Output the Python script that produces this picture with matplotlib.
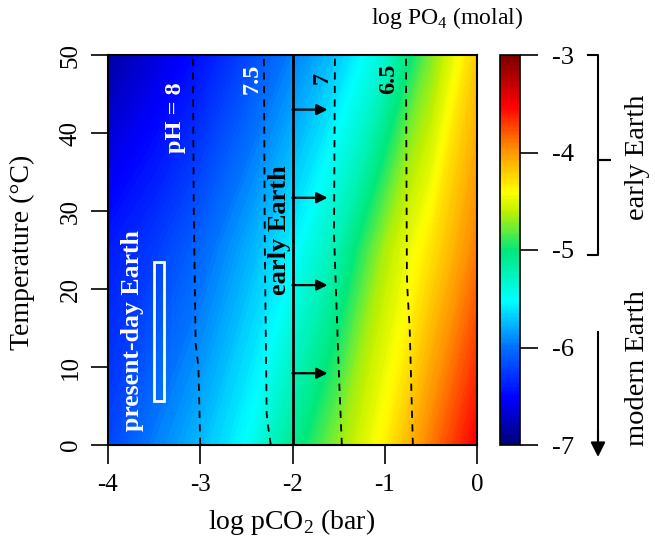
import numpy as np
import matplotlib.pyplot as plt
from matplotlib.colors import LinearSegmentedColormap
from matplotlib.transforms import blended_transform_factory

plt.rcParams['font.family'] = ['Liberation Serif', 'DejaVu Serif']
plt.rcParams['mathtext.fontset'] = 'custom'
plt.rcParams['mathtext.rm'] = 'Liberation Serif'

# valeurs: log PO4 (molal) en fonction de log pCO2 et T
logpco2 = [-4.0, -3.5, -3.0, -2.5, -2.0, -1.5, -1.0, -0.5, 0.0]
temp = [0, 25, 50]
logpo4 = [
    [-6.2, -5.95, -5.75, -5.5, -5.1, -4.7, -4.35, -3.9, -3.5],
    [-6.4, -6.25, -6.05, -5.8, -5.55, -5.2, -4.65, -4.3, -3.9],
    [-6.85, -6.65, -6.45, -6.2, -5.95, -5.7, -5.35, -4.75, -4.2],
]

# lignes de pH constant (x = log pCO2, T)
ph8_x = [-3.0, -3.02, -3.05, -3.07, -3.08]
ph8_t = [0, 10, 13, 30, 50]
ph75_x = [-2.235, -2.26, -2.28, -2.3, -2.31]
ph75_t = [0, 2, 4, 25, 50]
ph7_x = [-1.465, -1.5, -1.55, -1.54]
ph7_t = [0, 10, 27, 50]
ph65_x = [-0.695, -0.73, -0.755, -0.76, -0.77]
ph65_t = [0, 15, 20, 22, 50]

arrow_t = [9.2, 20.5, 31.7, 43.0]
early_pco2 = -2.0
arrow_end = -1.62

# present-day Earth
pd_x = [-3.5, -3.39]
pd_t = [5.6, 23.5]

cmap = LinearSegmentedColormap.from_list('po4', [
    (0.0, '#00007a'), (0.12, '#0000ff'), (0.25, '#0070ff'), (0.37, '#00ffff'),
    (0.5, '#00e87a'), (0.6, '#c0f000'), (0.65, '#ffff00'), (0.76, '#ff9000'),
    (0.87, '#ff0000'), (1.0, '#7a0000')])

fig = plt.figure(figsize=(6.55, 5.38), dpi=100)
ax = fig.add_axes([108/655, 1-445/538, 369/655, 390/538])
cax = fig.add_axes([500/655, 1-445/538, 20/655, 390/538])

X, T = np.meshgrid(logpco2, temp)
Z = np.array(logpo4)
cf = ax.contourf(X, T, Z, levels=np.linspace(-7, -3, 161), cmap=cmap,
                 vmin=-7, vmax=-3)

for xs, ts in [(ph8_x, ph8_t), (ph75_x, ph75_t), (ph7_x, ph7_t), (ph65_x, ph65_t)]:
    ax.plot(xs, ts, color='black', lw=1.3, ls=(0, (4, 3.5)))

ax.axvline(early_pco2, color='black', lw=2)
for t in arrow_t:
    ax.annotate('', xy=(arrow_end, t), xytext=(early_pco2, t),
                arrowprops=dict(arrowstyle='-|>', color='black', lw=1.6,
                                mutation_scale=16, shrinkA=0, shrinkB=0))

ax.add_patch(plt.Rectangle((pd_x[0], pd_t[0]), pd_x[1]-pd_x[0], pd_t[1]-pd_t[0],
                           fill=False, ec='white', lw=2))

ax.text(-3.27, 42, 'pH = 8', color='white', fontsize=17.5, fontweight='bold',
        rotation=90, ha='center', va='center')
ax.text(-2.44, 47, '7.5', color='white', fontsize=17.5, fontweight='bold',
        rotation=90, ha='center', va='center')
ax.text(-1.68, 47, '7', color='black', fontsize=17.5, fontweight='bold',
        rotation=90, ha='center', va='center')
ax.text(-0.96, 47, '6.5', color='black', fontsize=17.5, fontweight='bold',
        rotation=90, ha='center', va='center')
ax.text(-2.14, 27.5, 'early Earth', color='black', fontsize=19, fontweight='bold',
        rotation=90, ha='center', va='center')
ax.text(-3.73, 14.7, 'present-day Earth', color='white', fontsize=18.5,
        fontweight='bold', rotation=90, ha='center', va='center')

ax.set_xlim(-4, 0)
ax.set_ylim(0, 50)
ax.set_xticks([-4, -3, -2, -1, 0])
ax.set_xticklabels(['-4', '-3', '-2', '-1', '0'])
ax.set_yticks([0, 10, 20, 30, 40, 50])
ax.tick_params(axis='x', length=14, width=1.2, labelsize=18, pad=7)
ax.tick_params(axis='y', length=12, width=1.2, labelsize=18, pad=7)
for lab in ax.get_yticklabels():
    lab.set_rotation(90)
    lab.set_va('center')
for s in ax.spines.values():
    s.set_linewidth(1.5)

fig.text(22/655, 1-252/538, 'Temperature (°C)', rotation=90, fontsize=20,
         ha='center', va='center')
fig.text(292/655, 1-522/538, 'log pCO$_2$ (bar)', fontsize=20,
         ha='center', va='center')
fig.text(447/655, 1-18/538, 'log PO$_4$ (molal)', fontsize=17,
         ha='center', va='center')

cb = fig.colorbar(cf, cax=cax, ticks=[-7, -6, -5, -4, -3])
cb.ax.set_yticklabels(['-7', '-6', '-5', '-4', '-3'])
cb.ax.tick_params(length=13, width=1.2, labelsize=19, pad=10)
cb.outline.set_linewidth(1.2)

tr = blended_transform_factory(cax.transAxes, cax.transData)
bx = [4.4, 4.9, 4.9, 5.5, 4.9, 4.9, 4.4]
by = [-3.0, -3.0, -4.08, -4.08, -4.08, -5.05, -5.05]
cax.plot(bx, by, color='black', lw=1.5, transform=tr, clip_on=False)
fig.add_artist(plt.Line2D([598/655, 598/655], [1-332/538, 1-440/538],
                          color='black', lw=1.5))
ax.annotate('', xy=(598, 538-457), xytext=(598, 538-430),
            xycoords='figure pixels', textcoords='figure pixels',
            arrowprops=dict(arrowstyle='-|>', color='black', lw=1.5,
                            mutation_scale=22, shrinkA=0, shrinkB=0))
fig.text(638/655, 1-157/538, 'early Earth', rotation=90, fontsize=20.5,
         ha='center', va='center')
fig.text(638/655, 1-368/538, 'modern Earth', rotation=90, fontsize=20.5,
         ha='center', va='center')

fig.savefig('out.png', dpi=100)
